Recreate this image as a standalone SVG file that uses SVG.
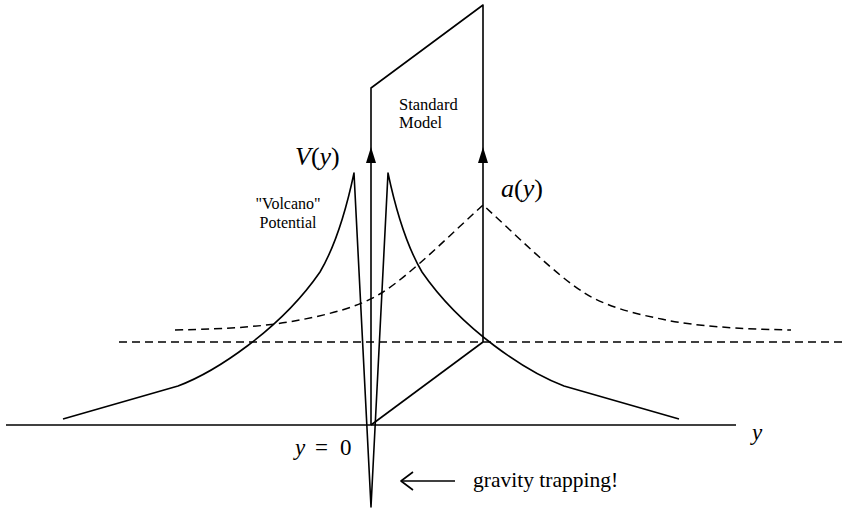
<svg xmlns="http://www.w3.org/2000/svg" width="842" height="508" viewBox="0 0 842 508">
<style>
.ln{fill:none;stroke:#000;stroke-width:1.6;stroke-linejoin:round}
.ds{fill:none;stroke:#000;stroke-width:1.5;stroke-dasharray:8 5}
text{font-family:'Liberation Serif','Times New Roman',Times,serif;fill:#000}
.i{font-style:italic}
</style>
<rect width="842" height="508" fill="#fff"/>
<g id="connectors">
<line id="axis" class="ln" x1="6" y1="425" x2="736" y2="425"/>
<path id="sm-box" class="ln" d="M371 425 L371 88 L483 5 L483 342"/>
<polygon points="371,147 376,163 366,163" fill="#000"/>
<polygon points="483,147 488,163 478,163" fill="#000"/>
<line class="ln" x1="371" y1="425" x2="483" y2="342"/>
<path id="volcano" class="ln" d="M63 419 L178 386 C215 372 280 330 320 272 C330 255 343 225 354 173 L371 507 L388 173 C399 225 412 255 422 272 C462 330 527 372 564 386 L679 419"/>
<line class="ds" x1="119" y1="342" x2="842" y2="342"/>
<path id="warp" class="ds" d="M175 330 C230 329 270 326 300 320 C330 314 360 307 383 292 C410 275 450 235 483 205 C516 235 556 275 583 292 C606 307 636 314 666 320 C696 326 736 329 791 330"/>
<line class="ln" x1="402" y1="481" x2="455" y2="481"/>
<polyline class="ln" stroke-width="2.2" points="413,472 401,481 413,490"/>
</g>
<g id="label-sm" font-family="Liberation Serif, serif">
<text x="399" y="110" font-size="16.5">Standard</text>
<text x="399" y="128" font-size="16.5">Model</text>
</g>
<g id="label-V" font-family="Liberation Serif, serif">
<text x="295" y="165" font-size="26"><tspan class="i">V</tspan>(<tspan class="i">y</tspan>)</text>
</g>
<g id="label-a" font-family="Liberation Serif, serif">
<text x="501" y="197" font-size="26"><tspan class="i">a</tspan>(<tspan class="i">y</tspan>)</text>
</g>
<g id="label-volcano" font-family="Liberation Serif, serif">
<text x="288" y="209" font-size="16" text-anchor="middle">"Volcano"</text>
<text x="288" y="228" font-size="16" text-anchor="middle">Potential</text>
</g>
<g id="label-y0" font-family="Liberation Serif, serif">
<text x="295" y="455" font-size="23"><tspan class="i">y</tspan><tspan x="315">=</tspan><tspan x="340">0</tspan></text>
</g>
<g id="label-yaxis" font-family="Liberation Serif, serif">
<text class="i" x="752" y="440" font-size="23">y</text>
</g>
<g id="label-trap" font-family="Liberation Serif, serif">
<text x="473" y="487" font-size="21.5">gravity trapping!</text>
</g>
</svg>
